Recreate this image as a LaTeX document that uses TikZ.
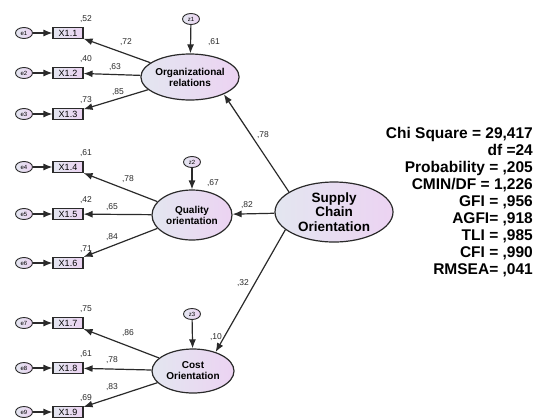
\documentclass[tikz,border=0pt]{standalone}
\usepackage{fontspec}
\setmainfont{Liberation Sans}
\usetikzlibrary{arrows.meta}
\usetikzlibrary{shapes.geometric}

\definecolor{lvA}{HTML}{E3E6F0}
\definecolor{lvB}{HTML}{ECD3F2}
\definecolor{edge}{HTML}{2A2A2A}

\begin{document}
\begin{tikzpicture}[x=1pt,y=-1pt,
    latent/.style={ellipse,draw=edge,line width=1.2pt,left color=lvA,right color=lvB,inner sep=0pt,
        minimum width=82pt,minimum height=46pt,align=center,font=\fontsize{10}{11}\selectfont\bfseries},
    item/.style={rectangle,draw=edge,line width=1.1pt,left color=lvA,right color=lvB,
        minimum width=30pt,minimum height=11pt,inner sep=0pt,font=\fontsize{9}{9}\selectfont},
    err/.style={ellipse,draw=edge,line width=0.9pt,left color=lvA,right color=lvB,
        minimum width=17pt,minimum height=11pt,inner sep=0pt,font=\fontsize{6}{6}\selectfont},
    pth/.style={edge,line width=1.2pt,-{Latex[length=9pt,width=7pt]}},
    lbl/.style={font=\fontsize{8.5}{8.5}\selectfont,text=edge,inner sep=0pt}]
        \useasboundingbox (0,0) rectangle (534,418);

        % latent variables
        \node[latent] (org) at (190,77) {Organizational\\relations};
        \node[latent,minimum width=80pt,minimum height=50pt] (qual) at (192,215) {Quality\\orientation};
        \node[latent,minimum height=44pt] (cost) at (193,371) {Cost\\Orientation};
        \node[latent,minimum width=118pt,minimum height=60pt,font=\fontsize{13.5}{14.5}\selectfont\bfseries] (sco) at (334,212) {Supply\\Chain\\Orientation};

        % disturbances
        \node[err] (z1) at (191,19) {z1};
        \node[err] (z2) at (192,162) {z2};
        \node[err] (z3) at (192,314) {z3};
        \foreach \k/\lv in {1/org,2/qual,3/cost} \draw[pth] (z\k) -- (\lv);

        % indicators
        \foreach \i/\y/\r in {1/33/52,2/73/40,3/114/73,4/167/61,5/214/42,6/263/71,7/323/75,8/368/61,9/412/69}{
            \node[err] (e\i) at (24,\y) {e\i};
            \node[item] (x\i) at (68,\y) {X1.\i};
            \node[lbl] at (86,\y-14) {,\r};
            \draw[pth] (e\i) -- (x\i);
        }
        \foreach \lv/\i in {org/1,org/2,org/3,qual/4,qual/5,qual/6,cost/7,cost/8,cost/9}
            \draw[pth] (\lv) -- (x\i);

        % loadings
        \foreach \px/\py/\v in {126/42/72,115/67/63,118/92/85,128/179/78,112/207/65,112/237/84,128/333/86,112/360/78,112/387/83}
            \node[lbl] at (\px,\py) {,\v};

        % structural paths
        \draw[pth] (sco.156) -- (org.333);
        \draw[pth] (sco) -- (qual);
        \draw[pth] (sco.200) -- (cost.40);
        \node[lbl] at (263,135) {,78};
        \node[lbl] at (247,205) {,82};
        \node[lbl] at (243,283) {,32};
        \node[lbl] at (214,42) {,61};
        \node[lbl] at (213,183) {,67};
        \node[lbl] at (216,337) {,10};

        % fit indices
        \node[anchor=north east,align=right,inner sep=0pt,font=\fontsize{15.5}{17}\selectfont\bfseries] (fit) at (533,127)
            {Chi Square = 29,417\\df =24\\Probability = ,205\\CMIN/DF = 1,226\\GFI = ,956\\AGFI= ,918\\TLI = ,985\\CFI = ,990\\RMSEA= ,041};
\end{tikzpicture}
\end{document}
